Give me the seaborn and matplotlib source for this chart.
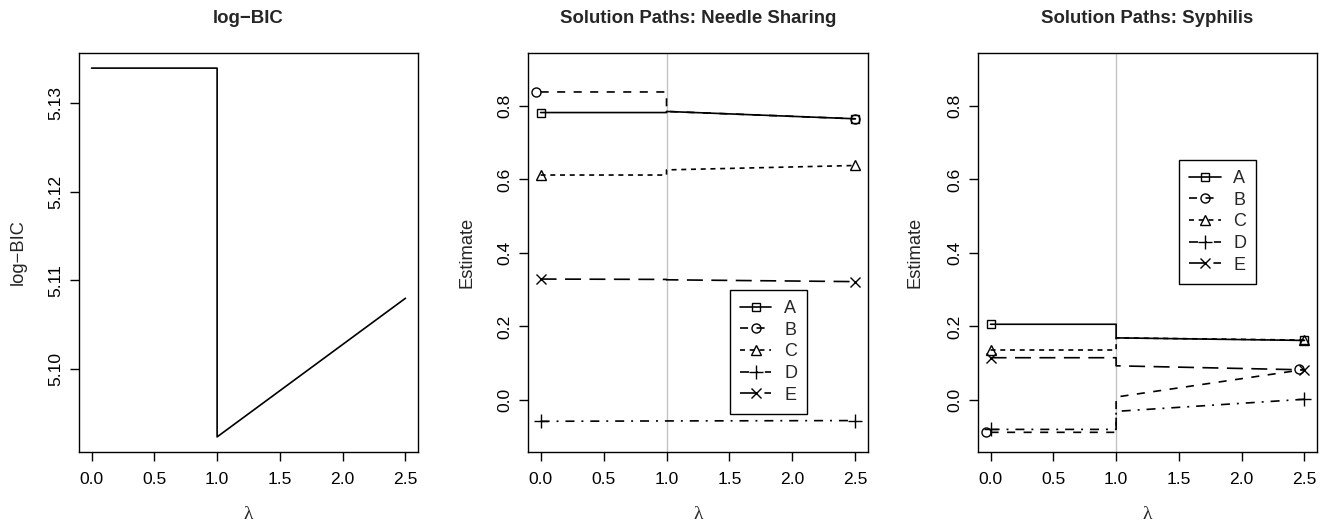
import matplotlib
matplotlib.use("Agg")
import matplotlib.pyplot as plt
import seaborn as sns
from matplotlib.lines import Line2D
from matplotlib.ticker import FormatStrFormatter

# ---------------- data ----------------
lam_path = [0.0, 1.0, 1.0, 2.5]          # lambda grid (jump at 1)
logbic = [5.1339, 5.1339, 5.0924, 5.1080]

series = ["A", "B", "C", "D", "E"]

needle_A = [0.782, 0.782, 0.785, 0.765]
needle_B = [0.838, 0.838, 0.785, 0.765]
needle_C = [0.612, 0.612, 0.626, 0.638]
needle_D = [-0.058, -0.057, -0.057, -0.056]
needle_E = [0.329, 0.328, 0.327, 0.322]

syph_A = [0.206, 0.206, 0.169, 0.162]
syph_B = [-0.088, -0.088, 0.008, 0.083]
syph_C = [0.136, 0.136, 0.169, 0.163]
syph_D = [-0.080, -0.080, -0.031, 0.002]
syph_E = [0.115, 0.115, 0.093, 0.082]

# marker positions (lambda) at the path ends
needle_marker_lam = {"A": [0.0, 2.5], "B": [-0.035, 2.5], "C": [0.0, 2.5], "D": [0.0, 2.5], "E": [0.0, 2.5]}
syph_marker_lam = {"A": [0.0, 2.5], "B": [-0.035, 2.455], "C": [0.0, 2.5], "D": [0.0, 2.5], "E": [0.0, 2.5]}

x_ticks = [0.0, 0.5, 1.0, 1.5, 2.0, 2.5]
bic_ticks = [5.10, 5.11, 5.12, 5.13]
est_ticks = [0.0, 0.2, 0.4, 0.6, 0.8]

# ---------------- style ----------------
sns.set_style("ticks")
plt.rcParams.update({
    "font.family": ["Liberation Sans", "DejaVu Sans"],
    "lines.scale_dashes": False,
    "axes.linewidth": 1.0,
    "axes.edgecolor": "black",
    "xtick.major.size": 6.5,
    "ytick.major.size": 6.5,
    "xtick.major.width": 1.0,
    "ytick.major.width": 1.0,
    "xtick.color": "black",
    "ytick.color": "black",
    "xtick.labelsize": 12.6,
    "ytick.labelsize": 12.6,
    "xtick.major.pad": 8.0,
    "ytick.major.pad": 5,
})

styles = {
    "A": dict(ls="-", marker="s", ms=6.0),
    "B": dict(ls=(0, (5.8, 6.1)), marker="o", ms=6.5),
    "C": dict(ls=(0, (3.6, 3.4)), marker="^", ms=7.5),
    "D": dict(ls=(0, (6.5, 5.0, 1.4, 5.0)), marker="+", ms=10),
    "E": dict(ls=(0, (11.5, 6.1)), marker="x", ms=7.5),
}
LW = 1.2

W, H = 1327, 527
fig = plt.figure(figsize=(W / 100, H / 100), dpi=100)

def add_ax(left, right, top=53, bottom=452):
    return fig.add_axes([left / W, (H - bottom) / H, (right - left) / W, (bottom - top) / H])

ax1 = add_ax(79, 418)
ax2 = add_ax(528, 868)
ax3 = add_ax(978, 1317)

lam_font = dict(family=["Liberation Serif", "DejaVu Serif"], fontsize=14)

def finish(ax, title, ylabel, yticks, yfmt, ylim, ylab_x):
    ax.set_xlim(-0.1, 2.6)
    ax.set_ylim(*ylim)
    ax.set_xticks(x_ticks)
    ax.xaxis.set_major_formatter(FormatStrFormatter("%.1f"))
    ax.set_yticks(yticks)
    ax.yaxis.set_major_formatter(FormatStrFormatter(yfmt))
    for lab in ax.get_yticklabels():
        lab.set_rotation(90)
        lab.set_va("center")
    ax.set_title(title, fontsize=13.4, fontweight="bold", pad=21.5)
    ax.set_xlabel("λ", **lam_font)
    ax.set_ylabel(ylabel, fontsize=13.2)
    ax.xaxis.set_label_coords(0.5, -0.136)
    ax.yaxis.set_label_coords(ylab_x, 0.5)
    for s in ax.spines.values():
        s.set_visible(True)
        s.set_color("black")
        s.set_linewidth(1.0)

# ---- panel 1: log-BIC ----
sns.lineplot(x=lam_path, y=logbic, ax=ax1, color="black", lw=LW, estimator=None, sort=False)
finish(ax1, "log−BIC", "log−BIC", bic_ticks, "%.2f", (5.0907, 5.1356), -0.155)

# ---- panels 2 & 3: solution paths ----
def paths(ax, data, marker_lam, title, legend_anchor, ylab_x):
    ax.axvline(1.0, color="#c4c4c4", lw=1.0, zorder=1)
    handles = []
    for name, vals in zip(series, data):
        st = styles[name]
        sns.lineplot(x=lam_path, y=vals, ax=ax, color="black", lw=LW, linestyle=st["ls"],
                     estimator=None, sort=False, zorder=3)
        ax.plot(marker_lam[name], [vals[0], vals[-1]], ls="none", marker=st["marker"],
                ms=st["ms"], mfc="none", mec="black", mew=1.0, zorder=4)
        handles.append(Line2D([], [], color="black", lw=LW, linestyle=st["ls"], marker=st["marker"],
                              ms=st["ms"], mfc="none", mec="black", mew=1.0))
    leg = ax.legend(handles, series, loc="upper left", bbox_to_anchor=legend_anchor,
                    borderaxespad=0, fontsize=13, frameon=True, fancybox=False,
                    edgecolor="black", framealpha=1, handlelength=1.75, handletextpad=0.7,
                    labelspacing=0.26, borderpad=0.55, numpoints=1)
    leg.get_frame().set_linewidth(1.0)
    finish(ax, title, "Estimate", est_ticks, "%.1f", (-0.1415, 0.944), ylab_x)

paths(ax2, [needle_A, needle_B, needle_C, needle_D, needle_E], needle_marker_lam,
      "Solution Paths: Needle Sharing", (0.594, 0.406), -0.155)
paths(ax3, [syph_A, syph_B, syph_C, syph_D, syph_E], syph_marker_lam,
      "Solution Paths: Syphilis", (0.593, 0.732), -0.162)

fig.savefig("out.png", dpi=100)
